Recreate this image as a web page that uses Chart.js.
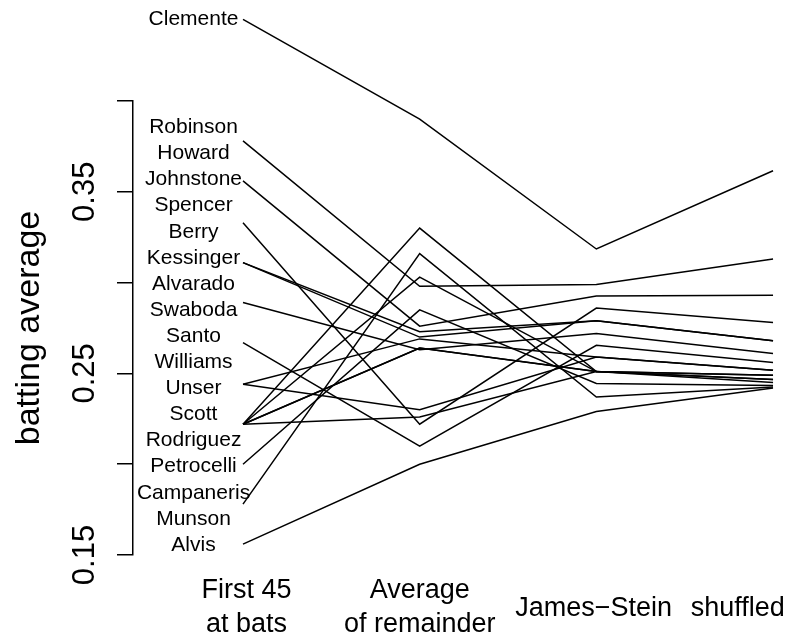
<!DOCTYPE html>
<html>
<head>
<meta charset="utf-8">
<script src="https://cdn.jsdelivr.net/npm/chart.js@4.4.1/dist/chart.umd.min.js"></script>
<style>
  html, body { margin: 0; padding: 0; background: #fff; }
  #wrap { width: 796px; height: 639px; }
</style>
</head>
<body>
<div id="wrap"><canvas id="battingChart"></canvas></div>
<script>
// names in the order they are written down the left side
const players = ['Clemente', 'Robinson', 'Howard', 'Johnstone', 'Spencer', 'Berry', 'Kessinger',
    'Alvarado', 'Swaboda', 'Santo', 'Williams', 'Unser', 'Scott', 'Rodriguez', 'Petrocelli',
    'Campaneris', 'Munson', 'Alvis'];

// one value per line
const first45 = [0.445, 0.378, 0.356, 0.333, 0.311, 0.311, 0.289, 0.267, 0.244, 0.244,
    0.222, 0.222, 0.222, 0.222, 0.222, 0.200, 0.178, 0.156];
const remainder = [0.390, 0.298, 0.276, 0.222, 0.273, 0.270, 0.263, 0.210, 0.269, 0.230,
    0.264, 0.330, 0.303, 0.264, 0.226, 0.285, 0.316, 0.200];
const jamesStein = [0.3185, 0.299, 0.2926, 0.286, 0.279, 0.279, 0.272, 0.2655, 0.259, 0.259,
    0.251, 0.251, 0.251, 0.251, 0.251, 0.2445, 0.237, 0.229];
const shuffled = [0.3616, 0.313, 0.293, 0.278, 0.268, 0.268, 0.261, 0.256, 0.2517, 0.2517,
    0.249, 0.249, 0.2467, 0.2467, 0.245, 0.2434, 0.2425, 0.242];

const columns = [1, 2, 3, 4];
const columnLabels = [['First 45', 'at bats'], ['Average', 'of remainder'], ['James\u2212Stein'], ['shuffled']];
const yTicks = [0.15, 0.20, 0.25, 0.30, 0.35, 0.40];
const yTickLabels = ['0.15', '', '0.25', '', '0.35', ''];

const datasets = players.map((name, i) => ({
    label: name,
    data: [first45[i], remainder[i], jamesStein[i], shuffled[i]].map((v, j) => ({ x: columns[j], y: v })),
    borderColor: '#000',
    borderWidth: 1.5,
    pointRadius: 0,
    tension: 0,
    fill: false,
    clip: false
}));

const FONT = '"Liberation Sans", Arial, Helvetica, sans-serif';

// names, column captions and rotated y labels (R style)
const annotations = {
    id: 'annotations',
    afterDraw(chart) {
        const { ctx, scales: { x, y } } = chart;
        ctx.save();
        ctx.fillStyle = '#000';
        ctx.textAlign = 'center';
        ctx.textBaseline = 'middle';

        // player names: Clemente next to its value, the rest evenly spread
        ctx.font = '21px ' + FONT;
        const nameX = x.getPixelForValue(0.72);
        const top = 0.3855, bottom = 0.1555;
        players.forEach((name, i) => {
            const v = i === 0 ? first45[0] : top - (top - bottom) * (i - 1) / (players.length - 2);
            ctx.fillText(name, nameX, y.getPixelForValue(v));
        });

        // column captions under the plot
        ctx.font = '27px ' + FONT;
        const captionX = [1.02, 2.0, 2.985, 3.8];
        columnLabels.forEach((lines, i) => {
            const cx = x.getPixelForValue(captionX[i]);
            if (lines.length === 2) {
                ctx.fillText(lines[0], cx, 591);
                ctx.fillText(lines[1], cx, 625);
            } else {
                ctx.fillText(lines[0], cx, 609);
            }
        });

        // y tick labels, rotated
        ctx.font = '31px ' + FONT;
        yTicks.forEach((t, i) => {
            if (!yTickLabels[i]) return;
            ctx.save();
            ctx.translate(85, y.getPixelForValue(t));
            ctx.rotate(-Math.PI / 2);
            ctx.fillText(yTickLabels[i], 0, 0);
            ctx.restore();
        });

        // y axis title
        ctx.font = '34px ' + FONT;
        ctx.save();
        ctx.translate(30, y.getPixelForValue(0.275));
        ctx.rotate(-Math.PI / 2);
        ctx.fillText('batting average', 0, 0);
        ctx.restore();

        ctx.restore();
    }
};

const ctx = document.getElementById('battingChart').getContext('2d');
new Chart(ctx, {
    type: 'line',
    data: { datasets: datasets },
    options: {
        responsive: true,
        maintainAspectRatio: false,
        animation: false,
        layout: { padding: { top: 101, bottom: 84, left: 0, right: 6 } },
        plugins: {
            legend: { display: false },
            tooltip: { enabled: false }
        },
        scales: {
            x: {
                type: 'linear',
                display: false,
                min: 0.3774,
                max: 4.096
            },
            y: {
                type: 'linear',
                min: 0.15,
                max: 0.40,
                afterFit: scale => { scale.width = 133; },
                afterBuildTicks: scale => { scale.ticks = yTicks.map(v => ({ value: v })); },
                ticks: { display: false },
                grid: {
                    drawOnChartArea: false,
                    drawTicks: true,
                    tickLength: 16,
                    color: '#000',
                    lineWidth: 1.5
                },
                border: { display: true, color: '#000', width: 1.5 }
            }
        }
    },
    plugins: [annotations]
});
</script>
</body>
</html>
